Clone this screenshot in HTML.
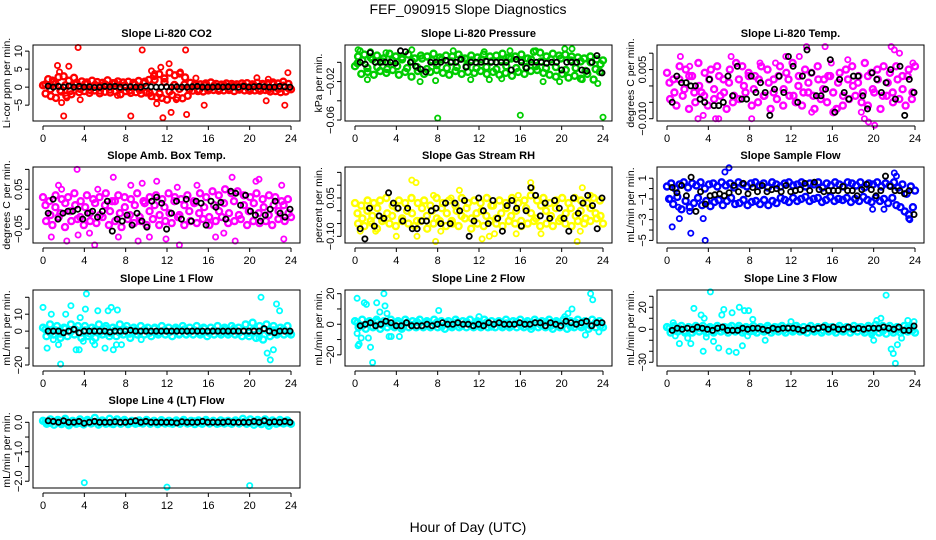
<!DOCTYPE html>
<html><head><meta charset="utf-8"><style>
html,body{margin:0;padding:0;background:#fff;}
svg{display:block;font-family:"Liberation Sans",sans-serif;}
</style></head><body>
<svg id="chart" width="936" height="540" viewBox="0 0 936 540">
<rect width="936" height="540" fill="#fff"/>
<text x="468" y="14" text-anchor="middle" font-size="14">FEF_090915  Slope Diagnostics</text>
<text x="468" y="532" text-anchor="middle" font-size="14">Hour of Day (UTC)</text>
</svg>
<script>
// ---------- data ----------
const xTicks = [0,4,8,12,16,20,24];
const titles = ["Slope Li-820 CO2","Slope Li-820 Pressure","Slope Li-820 Temp.","Slope Amb. Box Temp.","Slope Gas Stream RH","Slope Sample Flow","Slope Line 1 Flow","Slope Line 2 Flow","Slope Line 3 Flow","Slope Line 4 (LT) Flow"];
const yLabels = ["Li-cor ppm per min.","kPa per min.","degrees C per min.","degrees C per min.","percent per min.","mL/min per min.","mL/min per min.","mL/min per min.","mL/min per min.","mL/min per min."];
const colors = ["#ff0000","#00cd00","#ff00ff","#ff00ff","#ffff00","#0000ff","#00ffff","#00ffff","#00ffff","#00ffff"];
const yDomains = [[-9.4,11.7],[-0.061,0.018],[-0.0107,0.0125],[-0.085,0.106],[-0.126,0.171],[-5.25,2.08],[-20.6,24.3],[-27.3,22.4],[-33.4,35.7],[-2.23,0.35]];
const yTickVals = [[-5,0,5,10],[-0.06,-0.04,-0.02,0],[-0.01,-0.005,0,0.005,0.01],[-0.05,0,0.05,0.1],[-0.1,-0.05,0,0.05,0.1,0.15],[-5,-4,-3,-2,-1,0,1],[-20,-10,0,10,20],[-20,-10,0,10,20],[-30,-20,-10,0,10,20,30],[-2,-1.5,-1,-0.5,0]];
const yTickText = [["−5","0","5","10"],["−0.06","","−0.02",""],["−0.010","","","0.005",""],["−0.05","","0.05",""],["−0.10","","","0.05","",""],["−5","","−3","","−1","","1"],["−20","","0","10",""],["−20","","0","","20"],["−30","","","0","","20",""],["−2.0","","−1.0","","0.0"]];

const band1 = [0.5,-1.8,2.2,-2.5,1.5,-3,2.8,-1.2,3,-2.4,1.8,-2,2.6,1.2,-1.4,1.6,-1.1,1.3,-1.6,1.8,-0.9,1.4,-1.7,1.2,-1.3,1.9,-1.5,1.1,-1.2,1.6,-2,1.3,-1.1,1.5,-1.6,1.2,-1.4,1.7,-1.8,1.1,-1.5,2,-2.5,3.1,-2.8,3.6,-3,2.4,-3.5,4,-2.2,3.3,-2.9,3.8,-3.1,2.7,-2.4,1.2,-1,0.9,-1.1,0.8,-1.2,1,-0.9,1.3,-0.8,0.9,-1,0.7,-0.9,1,-0.8,0.9,-1.1,0.8,-0.7,1,-0.9,1.1,-1,0.8,-0.9,1.2,-1,0.9,-0.8,1.1,-1.2,1.3,-1.1,1,-1.4,1.5,-1.2,0.9,-0.6];
const band1b = [0.8,-0.6,1,-0.9,0.5,-1.1,0.7,-0.5,0.9,-0.8,0.6,-1,0.8,-0.7,1.1,-0.6,0.5,-0.9,0.7,-0.8,1.5,-1.6,2,-1.8,1.4,-1.2,0.6,-0.5,0.7,-0.6,0.5,-0.7,0.6,-0.5,0.4,-0.6,0.5,-0.4,0.6,-0.5,0.4,-0.6,0.5,-0.5,0.7,-0.6,0.8,-0.5,0.4,-0.3];
const outT1 = [3.4,9.6,13.8,1.4,2.5,12.2,2,8.5,11.6,13.9,3.6,15.6,21.6,23.4,23.7,1.8,11,1.6,2.3,10.5,10.8,11.4,12.4,13.3,14.8,20.7,21.8,0.9,12.9,7.2];
const outV1 = [11,10.3,10.3,6,5.8,6.5,-8,-8,-8.5,-7.6,-3.5,-5,-3.8,-5,4,-4.3,-4.6,4.2,-3,4.5,3.8,5.5,-7,4.2,2.5,2.6,2.2,2,-3.5,-2.3];
const blk1 = [0.3,0,0.2,0,0.3,0,0.2,0,0.1,-0.1,0,0.2,0.1,0.2,0,0,0.1,0,0,0.3,0.1,0,0,0.1,0,0.1,0,0,0.1,0.2,0,0,0,0.1,0,0.1,0,0,0.2,0,0.1,0.2,0.1,0,0,0.2,0.1,0];

const band2 = [-0.004,0.006,-0.012,0.008,-0.01,0.005,-0.013,0.007,-0.009,0.004,-0.011,0.009,-0.008,0.006,-0.013,0.005,-0.01,0.008,-0.015,0.004,-0.009,0.007,-0.012,0.006,-0.01,0.009,-0.008,0.005,-0.011,0.007,-0.013,0.006,-0.009,0.008,-0.012,0.004,-0.01,0.007,-0.011,0.005,-0.009,0.008,-0.012,0.006,-0.01,0.007,-0.013,0.009,-0.011,0.005,-0.014,0.006,-0.01,0.008,-0.012,0.004,-0.009,0.011,-0.008,0.01,-0.011,0.006,-0.013,0.009,-0.015,0.007,-0.012,0.008,-0.016,0.006,-0.014,0.005,-0.017,0.004,-0.012,0.006,-0.018,0.003,-0.01,0.002];
const band2b = [-0.001,0.002,-0.006,0.003,-0.005,0.001,-0.007,0.002,-0.004,0.003,-0.006,0.001,-0.005,0.004,-0.007,0.002,-0.003,0.003,-0.006,0.001,-0.005,0.004,-0.004,0.002,-0.006,0.003,-0.005,0.001,-0.007,0.002,-0.004,0.004,-0.006,0.002,-0.005,0.003,-0.004,0.001,-0.006,0.003,-0.005,0.004,-0.008,0.002,-0.006,0.001,-0.009,0,-0.007,-0.002];
const outT2 = [0.5,1.5,3,5.5,8,9.5,12.5,15,16,18.2,20.3,21,23.5,24,6.3,13,22,0.3,17.5,19.8,1.2,7.8,11.2,14.2];
const outV2 = [0.012,0.011,0.01,0.013,-0.058,0.012,0.011,0.012,-0.055,-0.02,0.014,0.014,-0.022,-0.057,-0.02,-0.018,-0.018,0.013,0.012,-0.02,-0.018,-0.019,-0.018,-0.017];
const blk2 = [0,-0.002,0.01,0,0,0,0,-0.001,0.012,0.011,0,-0.004,-0.007,-0.01,0,0,0,0.002,0,0,0.003,-0.005,0,0,0,0.001,0,0,0,0,-0.008,0.003,0,-0.006,0,0,0,-0.001,0,0,-0.008,0,0,0,-0.008,-0.009,0,0.007,-0.011];

const band3 = [0.004,-0.004,0.002,-0.006,0.006,-0.003,0.005,-0.007,0.003,-0.005,0.007,-0.002,0.004,-0.006,0.005,-0.004,0.006,-0.003,0.002,-0.007,0.005,-0.005,0.007,-0.004,0.006,-0.002,0.004,-0.006,0.003,-0.005,0.006,-0.003,0.005,-0.007,0.002,-0.004,0.006,-0.006,0.004,-0.003,0.007,-0.005,0.003,-0.006,0.005,-0.002,0.004,-0.007,0.006,-0.004,0.002,-0.005,0.003,-0.008,-0.007,0.004,-0.006,0.005,-0.004,0.006,-0.003,0.003,-0.005,0.007,-0.006,0.004,-0.002,0.005,-0.007,0.006,-0.003,0.004,-0.005,0.006,-0.004,0.003,-0.006,0.005,-0.004,0.006];
const band3b = [0.001,-0.002,0.002,-0.001,0.003,-0.002,0,-0.003,0.002,-0.001,0.003,-0.002,0.001,-0.003,0.002,0,0.003,-0.001,0.002,-0.003,0.001,-0.002,0.003,-0.001,0.002,-0.003,0,-0.002,0.001,-0.003,0.002,-0.001,0.003,-0.002,0.001,-0.003,0.002,0,0.001,-0.002,0.003,-0.001,0.002,-0.003,0.001,-0.002,0.002,-0.001,0.003,-0.002];
const outT3 = [1.3,2.2,3.5,5,6.2,8.2,9,10.5,11.5,12.8,14,15.3,15.9,17.5,19.1,19.5,20.1,21.7,22,22.5,23.8,4.7,3,13.5,16.5,18.8];
const outV3 = [0.009,0.006,-0.009,-0.01,0.009,-0.01,0.007,0.007,0.009,0.009,-0.008,0.012,0.007,0.008,-0.01,-0.011,-0.012,0.012,0.011,0.01,0.007,-0.01,-0.01,0.012,-0.007,-0.008];
const blk3 = [-0.005,0.003,0.001,0.001,0,0,-0.004,-0.005,0.002,-0.006,-0.006,-0.005,0.003,-0.003,0.006,-0.004,-0.004,0.003,-0.002,0.001,-0.002,-0.009,-0.001,0.003,-0.002,0.009,0.006,-0.005,0.003,0.011,0.004,-0.003,-0.003,-0.001,0.008,-0.008,0.002,-0.002,-0.004,0.003,0.003,-0.003,-0.007,0.004,0.002,-0.002,0.001,0.005,-0.004,0.006,-0.009,0.002,-0.002];

const band4 = [0.03,-0.03,0.02,-0.04,0.035,-0.02,0.025,-0.045,0.03,-0.03,0.04,-0.025,0.02,-0.04,0.035,-0.03,0.025,-0.035,0.03,-0.02,0.04,-0.04,0.02,-0.03,0.035,-0.045,0.03,-0.025,0.025,-0.035,0.04,-0.03,0.02,-0.04,0.03,-0.025,0.035,-0.04,0.025,-0.03,0.04,-0.035,0.03,-0.02,0.025,-0.04,0.035,-0.03,0.02,-0.035,0.04,-0.025,0.03,-0.04,0.045,-0.03,0.035,-0.02,0.05,-0.035,0.04,-0.03,0.045,-0.025,0.035,-0.04,0.03,-0.03,0.04,-0.035,0.025,-0.03,0.035,-0.04,0.03,-0.025,0.02,-0.03,0.025,-0.02];
const band4b = [0.01,-0.015,0.005,-0.01,0.015,-0.005,0.01,-0.02,0.005,-0.01,0.015,-0.015,0.01,-0.005,0.02,-0.01,0.005,-0.015,0.01,-0.02,0.015,-0.005,0.01,-0.015,0.005,-0.01,0.02,-0.015,0.01,-0.005,0.015,-0.01,0.005,-0.02,0.01,-0.005,0.015,-0.01,0.02,-0.015,0.01,-0.005,0.015,-0.01,0.005,-0.015,0.01,-0.005,0.01,-0.01];
const outT4 = [0.8,1.5,2.3,3.3,3.4,4.5,5,5.3,6.8,7.3,8.5,9.6,10.3,11,11.9,13,13.2,14.9,16.7,17.5,18.3,18.6,20.6,20.9,23.1,23.3,1.8,9.2];
const outV4 = [-0.07,0.06,-0.08,0.1,-0.065,-0.06,-0.09,0.05,0.08,-0.07,0.06,0.065,-0.07,0.07,-0.075,0.055,-0.09,0.06,-0.07,-0.06,0.08,-0.08,0.07,0.075,0.06,-0.075,0.05,-0.08];
const blk4 = [-0.01,0.025,-0.025,-0.01,-0.005,-0.005,0,-0.025,-0.01,-0.005,-0.02,-0.005,0.02,-0.055,-0.025,-0.03,-0.015,-0.04,-0.01,-0.03,-0.045,0.02,0.03,0.015,-0.05,-0.01,0.02,-0.025,0.025,-0.03,0.02,0.015,-0.04,0.02,0.005,0.017,-0.025,0.045,0.04,0.01,0.035,-0.005,-0.015,-0.03,-0.015,0,0.02,-0.01,-0.02,0];

const band5 = [0.03,-0.05,0.02,-0.06,0.04,-0.04,0.03,-0.07,0.04,-0.03,0.05,-0.05,0.02,-0.06,0.04,-0.04,0.03,-0.05,0.05,-0.06,0.03,-0.04,0.04,-0.07,0.02,-0.05,0.05,-0.04,0.03,-0.06,0.04,-0.05,0.02,-0.06,0.05,-0.03,0.03,-0.07,0.04,-0.05,0.03,-0.06,0.05,-0.04,0.02,-0.05,0.04,-0.06,0.03,-0.04,0.05,-0.05,0.03,-0.06,0.04,-0.05,0.06,-0.04,0.04,-0.06,0.05,-0.05,0.03,-0.06,0.04,-0.04,0.05,-0.05,0.03,-0.06,0.05,-0.04,0.04,-0.05,0.03,-0.04,0.05,-0.03,0.04,-0.05];
const band5b = [-0.01,-0.03,0,-0.02,0.01,-0.04,-0.01,-0.02,0.01,-0.03,0,-0.01,-0.04,0.01,-0.02,0,-0.03,0.01,-0.01,-0.04,0,-0.02,0.01,-0.03,-0.01,0,-0.02,0.02,-0.03,-0.01,0.01,-0.02,0,-0.04,0.01,-0.01,-0.03,0.02,0,-0.02,0.01,-0.03,-0.01,0.01,-0.02,0,-0.03,0.01,-0.01,-0.02];
const outT5 = [0.5,2,4,5.5,5.9,6,7.8,8.3,9.3,10.1,12.3,13,13.5,15.6,15.8,17,17.1,18,21.5,21.8,22,22.8,1.6,7.6];
const outV5 = [-0.08,-0.08,-0.1,0.12,0.11,-0.1,-0.12,-0.08,0.05,0.08,-0.11,-0.1,-0.09,-0.09,0.06,0.11,0.09,-0.09,-0.12,-0.08,0.09,0.06,-0.05,0.06];
const blk5 = [-0.07,-0.11,0.01,-0.06,-0.02,-0.03,0.07,0.03,0.01,-0.04,0.01,-0.07,-0.07,-0.04,-0.04,0,0.01,-0.05,0.03,-0.05,0.03,0,0.04,-0.1,-0.04,0.05,0,-0.05,0.04,-0.03,-0.08,0.02,0.04,0.01,-0.06,0,0.09,0.06,-0.02,0.03,-0.03,0.04,0.01,-0.03,-0.08,0.05,-0.01,0.03,0.06,0.02,-0.07,0.05];

const band6 = [0.2,0.5,0,0.4,0.6,0.1,0.5,0.3,0.6,0,0.4,0.5,0.2,0.6,0.3,0.5,0.1,0.6,0.4,0.2,0.5,0.6,0.3,0.5,0.1,0.6,0.4,0.2,0.5,0.6,0.3,0.4,0.6,0.2,0.5,0.4,0.6,0.1,0.5,0.3,0.6,0.4,0.2,0.6,0.5,0.3,0.6,0.1,0.5,0.4,0.6,0.2,0.5,0.3,0.6,0.1,0.4,-0.5,0.2,-0.2];
const band6b = [-1,-1.5,-0.8,-2,-1.2,-1.8,-1.4,-0.9,-1.6,-1.2,-1.7,-1.3,-1.1,-1.6,-1.2,-0.9,-1.5,-1.4,-1.1,-1.6,-1.3,-1.2,-1.5,-1.1,-1.6,-1.2,-1.4,-0.9,-1.1,-1.3,-0.9,-1.2,-1,-0.8,-1.2,-1,-0.9,-1.3,-1.1,-0.8,-1.2,-1,-1.1,-0.9,-1.3,-1,-1.2,-0.8,-1.1,-1.3,-0.9,-1.2,-1,-1.4,-0.9,-1.6,-1.8,-2.2,-2.5,-1.8];
const outT6 = [0.5,1.2,2.3,2.2,3.5,3.7,5.6,6,22,22.2,23.4,23.5,19.9,21,0.3,1.1];
const outV6 = [-3.7,-2.9,-4.3,-2.2,-2.9,-5,1.6,2,1.5,1.2,-2.9,-3,-2,-2,-1,-1.8];
const blk6 = [0.1,-0.4,0.3,-0.7,1.1,-2.2,-0.3,-1.5,-0.7,-0.6,-0.5,-0.7,-0.4,0.3,-0.3,0.5,-0.5,0.1,-0.3,0.3,-0.3,-0.1,0,-0.3,0.3,-0.3,-0.2,-0.1,0.5,-0.2,0.6,-0.1,-0.3,-0.2,-0.2,-0.2,0.2,-0.2,-0.2,-0.7,-0.1,0.4,-0.1,-0.7,-0.2,1.2,0.2,-0.2,-0.2,-0.5,-0.2,-2.5];

const band7 = [2,-3,4,-2,3,-4,2,-3,4,-2,3,-4,3,-3,2,-4,4,-2,3,-3,2,-3,4,-2,3,-4,2,-2,3,-2,2,-3,2,-2,3,-2,2,-3,2,-2,3,-2,2,-2,3,-2,2,-3,2,-2,3,-2,2,-2,3,-2,2,-3,4,-3,5,-4,3,-5,4,-3,3,-2,2,-2,3,-2];
const band7b = [1,-1,0.5,-1.5,1.5,-0.5,1,-1,0.5,-1.5,1,-0.5,1.5,-1,0.5,-1,1,-1.5,0.5,-0.5,1,-1,1.5,-1,0.5,-0.5,1,-1.5,1,-0.5,0.5,-1,1.5,-1,0.5,-1,1,-0.5,1.5,-1,0.5,-1,1,-1.5,1,-0.5,0.5,-1,1,-1];
const outT7 = [0,0.4,0.8,1.5,1.7,2.2,2.7,3.2,3.6,4.1,4.2,5,5.3,6,6.3,6.6,7.2,7.6,3.5,9.5,20.9,21.1,21.7,22,22.3,22.6,22.9,1,4.8,6.8,7.1,3.9];
const outV7 = [14,-10,10,-8,-19.5,10,15,-11,8,13,22,-8,12,-10,12,14,12.5,-8,-11,-5,-4,20,-13,-17,-11,16,12,-5,-6,-11,-8,-6];
const blk7 = [0,0,0,-1,0,1,-1,0,0,0,0,0,-0.5,0,0,0,0.5,0,0,0,0,0,0,0,0,0,0,0,0,0,0,0,0,0,0,0,0,0,0,0,0,0,1.5,0,-1,0,0,0];

const band8 = [2,-2,3,-3,2,-2,3,-3,2,-2,3,-2,2,-3,3,-2,2,-2,3,-2,2,-2,3,-2,2,-3,2,-2,3,-2,2,-2,3,-2,2,-2,3,-2,2,-2,2,-2,3,-2,2,-2,3,-2,2,-3,3,-2,2,-2,3,-3,2,-2,3,-3,2,-2,3,-2,2,-3,3,-2,2,-2];
const band8b = [1,-1,0.5,-1.5,1.5,-0.5,1,-1,0.5,-1.5,1,-0.5,1.5,-1,0.5,-1,1,-1.5,0.5,-0.5,1,-1,1.5,-1,0.5,-0.5,1,-1.5,1,-0.5,0.5,-1,1.5,-1,0.5,-1,1,-0.5,1.5,-1,0.5,-1,1,-1.5,1,-0.5,0.5,-1,1,-1];
const outT8 = [0.2,0.4,0.6,0.9,1.1,1.3,1.7,2.1,2.8,2.9,3.1,3.5,4.3,1.5,0.2,8.1,12,20.3,20.6,21,22.3,22.8,23,23.6,3.3,2.4,0.3];
const outV8 = [17,-13,-9,14,13,-9,-25,14,20,12,7,-8,-8,-15,-6,9,5,5,7,10,-7,20,16,-5,-8,8,-14];
const blk8 = [-1,0,1,-1,0,2,1,-1,-1,1,-1,-1,-1,0,-1,0,1,0,0,1,0,0,-1,0,-1,1,0,1,0,0,0,1,0,0,1,1,-1,1,0,-1,2,1,0,1,2,-1,1,1];

const band9 = [2,-3,3,-2,3,-3,2,-3,3,-2,3,-3,2,-3,3,-2,2,-3,3,-2,3,-3,2,-2,3,-3,2,-2,3,-3,2,-2,3,-3,2,-2,3,-2,2,-3,3,-2,2,-3,3,-2,2,-3,3,-2,2,-3,3,-2,2,-3,3,-3,4,-3,3,-4,3,-3,2,-3,3,-2,2,-3];
const band9b = [1,-1,0.5,-1.5,1.5,-0.5,1,-1,0.5,-1.5,1,-0.5,1.5,-1,0.5,-1,1,-1.5,0.5,-0.5,1,-1,1.5,-1,0.5,-0.5,1,-1.5,1,-0.5,0.5,-1,1.5,-1,0.5,-1,1,-0.5,1.5,-1,0.5,-1,1,-1.5,1,-0.5,0.5,-1,1,-1];
const outT9 = [0.6,1.2,2,2.3,2.6,3.3,3.5,3.6,4.2,4.5,5,5.3,5.5,6,6.3,6.7,7,7.3,7.5,7.9,8.3,9.5,12,20,20.3,20.7,21.2,21.7,21.9,22.1,22.3,22.7,23.3,23.9,0.8,3.8,7.8,19.8];
const outV9 = [6,-13,-8,-13,19,13,-20,10,34,-11,-17,13,18,-20,15,-21,20,-15,17,17,9,-10,7,-10,8,10,31,-18,-22,-31,-14,-8,8,7,-6,-7,-6,-5];
const blk9 = [-1,1,0,1,0,2,1,0,-1,1,2,-1,-1,-1,1,0,1,1,0,-1,1,0,1,1,1,0,-1,1,0,1,2,0,2,0,0,2,0,1,0,1,1,1,2,1,0,2,-1,-1,3];

const band10 = [0.05,-0.05,0.1,-0.08,0.08,-0.06,0.12,-0.1,0.05,-0.05,0.1,-0.07,0.08,-0.04,0.15,-0.08,0.06,-0.05,0.12,-0.06,0.1,-0.05,0.08,-0.06,0.05,-0.05,0.06,-0.04,0.08,-0.05,0.05,-0.06,0.07,-0.04,0.05,-0.05,0.06,-0.05,0.08,-0.04,0.05,-0.06,0.06,-0.05,0.08,-0.04,0.05,-0.05,0.06,-0.04,0.05,-0.05,0.06,-0.04,0.12,-0.05,0.1,-0.08,0.08,-0.06,0.1,-0.12,0.06,-0.05,0.08,-0.04,0.06,-0.05];
const band10b = [0.02,-0.02,0.03,-0.01,0.02,-0.03,0.01,-0.02,0.03,-0.02,0.01,-0.01,0.02,-0.03,0.02,-0.01,0.03,-0.02,0.01,-0.02,0.02,-0.01,0.03,-0.02,0.01,-0.03,0.02,-0.01,0.02,-0.02,0.03,-0.01,0.02,-0.02,0.01,-0.03,0.02,-0.01,0.03,-0.02,0.01,-0.02,0.02,-0.01,0.03,-0.02,0.01,-0.02,0.02,-0.01];
const outT10 = [4,12,20];
const outV10 = [-2.05,-2.2,-2.15];
const blk10 = [0.05,0.03,0,0.05,0,0,0.03,-0.03,0,0.03,0,0,0,0.02,0,0,0.02,0.05,0,0.03,0,0,0,0,0,-0.02,0.02,0,0,0,0.03,0,0,0,0,0.02,0,0,0,0,0.03,0,0.05,0,0.02,0,0.03,0];

const bands = [[band1,band1b],[band2,band2b],[band3,band3b],[band4,band4b],[band5,band5b],[band6,band6b],[band7,band7b],[band8,band8b],[band9,band9b],[band10,band10b]];
const outTs = [outT1,outT2,outT3,outT4,outT5,outT6,outT7,outT8,outT9,outT10];
const outVs = [outV1,outV2,outV3,outV4,outV5,outV6,outV7,outV8,outV9,outV10];
const blacks = [blk1,blk2,blk3,blk4,blk5,blk6,blk7,blk8,blk9,blk10];

// ---------- drawing ----------
const NS = "http://www.w3.org/2000/svg";
const svg = document.getElementById("chart");
function mk(tag, attrs, parent) {
  const e = document.createElementNS(NS, tag);
  for (const k in attrs) e.setAttribute(k, attrs[k]);
  (parent || svg).appendChild(e);
  return e;
}
function fmtSlug(s){return s.toLowerCase().replace(/[^a-z0-9]+/g,'-').replace(/^-|-$/g,'');}

titles.forEach((title, p) => {
  const col = p % 3, row = Math.floor(p / 3);
  const L = 33 + 312 * col, R = L + 267;
  const T = Math.round(45 + 122.3 * row), B = T + 76;
  const x = t => L + 10 + t * (248 / 24);
  const [y0, y1] = yDomains[p];
  const y = v => B - (v - y0) / (y1 - y0) * (B - T);
  const slug = fmtSlug(title);

  const g = mk("g", {});
  
  

  const tt = mk("text", {x: (L + R) / 2, y: T - 8, "text-anchor": "middle", "font-size": 11, "font-weight": "bold"}, g);
  tt.textContent = title;
  
  

  // colored points
  const pg = mk("g", {fill: "none", stroke: colors[p], "stroke-width": 2.4}, g);
  
  
  bands[p].forEach((arr, k) => {
    arr.forEach((v, i) => {
      const t = k === 0 ? 24 * i / (arr.length - 1) : 24 * (i + 0.5) / arr.length;
      const c = mk("circle", {cx: x(t).toFixed(1), cy: y(v).toFixed(1), r: 3}, pg);
      
      
    });
  });
  outTs[p].forEach((t, i) => {
    const c = mk("circle", {cx: x(t).toFixed(1), cy: y(outVs[p][i]).toFixed(1), r: 2.6, "stroke-width": 1.8}, pg);
    
    
  });
  // black points
  const bg = mk("g", {fill: "none", stroke: "#000", "stroke-width": 1.8}, g);
  
  
  const bk = blacks[p];
  bk.forEach((v, i) => {
    const t = 0.5 + 23.4 * i / (bk.length - 1);
    const c = mk("circle", {cx: x(t).toFixed(1), cy: y(v).toFixed(1), r: 2.6}, bg);
    
    
  });

  // box
  const box = mk("rect", {x: L, y: T, width: R - L, height: B - T, fill: "none", stroke: "#000", "stroke-width": 1}, g);
  
  

  // x axis
  const xa = mk("g", {stroke: "#000", "stroke-width": 1}, g);
  
  
  mk("line", {x1: x(0), x2: x(24), y1: B + 5, y2: B + 5}, xa);
  xTicks.forEach(t => {
    mk("line", {x1: x(t), x2: x(t), y1: B + 5, y2: B + 9}, xa);
    const lb = mk("text", {x: x(t), y: B + 21, "text-anchor": "middle", "font-size": 11, stroke: "none", fill: "#000"}, xa);
    lb.textContent = String(t);
    
    
  });

  // y axis
  const ya = mk("g", {stroke: "#000", "stroke-width": 1}, g);
  
  
  const tv = yTickVals[p];
  const ax = L - 4;
  mk("line", {x1: ax, x2: ax, y1: y(tv[0]), y2: y(tv[tv.length - 1])}, ya);
  tv.forEach((v, i) => {
    mk("line", {x1: ax, x2: ax - 4, y1: y(v), y2: y(v)}, ya);
    const s = yTickText[p][i];
    if (s) {
      const lb = mk("text", {x: ax - 7, y: y(v), "text-anchor": "middle", "font-size": 11, stroke: "none", fill: "#000", transform: `rotate(-90 ${ax - 7} ${y(v)})`}, ya);
      lb.textContent = s;
      
      
    }
  });
  const yl = mk("text", {x: L - 23, y: (T + B) / 2, "text-anchor": "middle", "font-size": 10.5, fill: "#000", transform: `rotate(-90 ${L - 23} ${(T + B) / 2})`}, g);
  yl.textContent = yLabels[p];
  
  
});
</script>
</body></html>
